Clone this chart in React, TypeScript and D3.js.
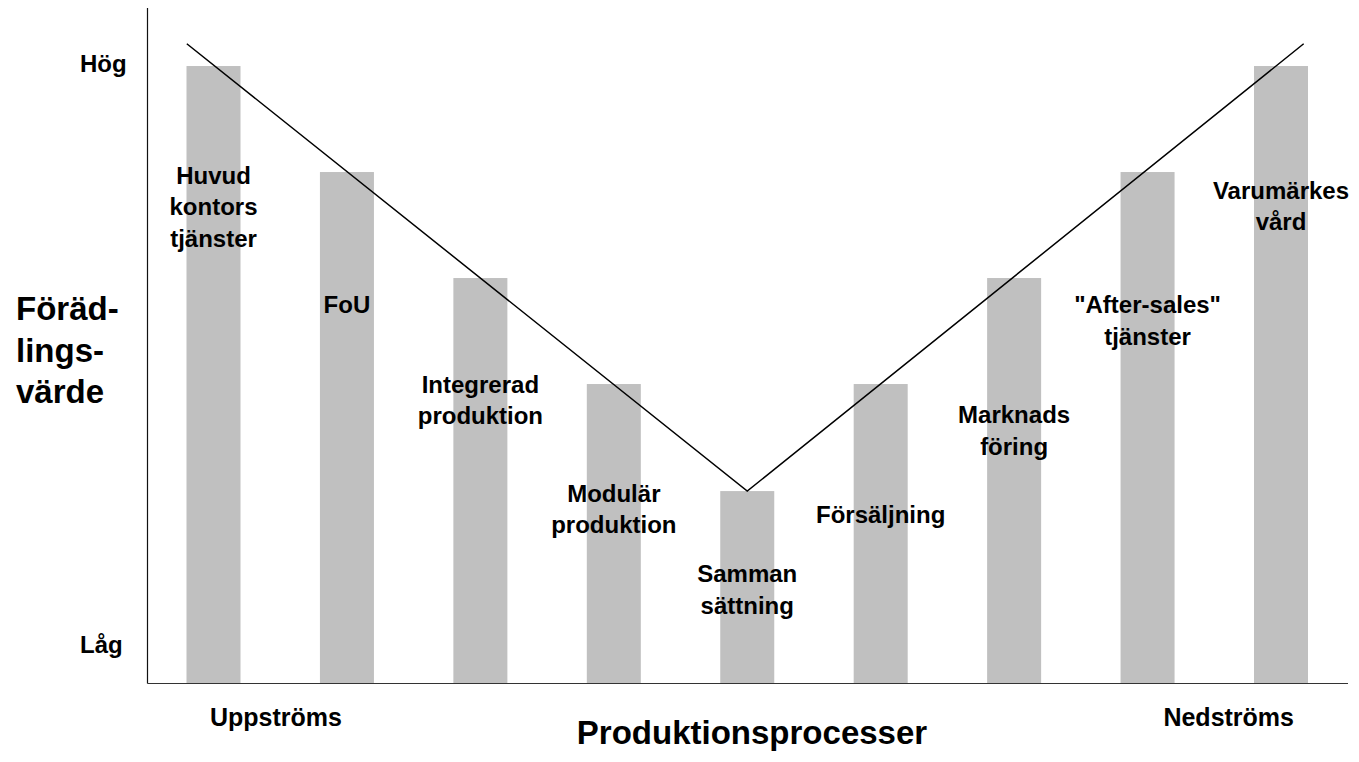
import React, {useEffect, useRef} from 'react';
import * as d3 from 'd3';

// processes along the value chain, left to right
const categories = [
    'huvud', 'fou', 'integrerad', 'modular', 'samman',
    'forsaljning', 'marknad', 'aftersales', 'varumarke',
];
const barValues = [5.83, 4.83, 3.83, 2.83, 1.82, 2.83, 3.83, 4.83, 5.83];
const barLabels = [
    ['Huvud', 'kontors', 'tjänster'],
    ['FoU'],
    ['Integrerad', 'produktion'],
    ['Modulär', 'produktion'],
    ['Samman', 'sättning'],
    ['Försäljning'],
    ['Marknads', 'föring'],
    ['"After-sales"', 'tjänster'],
    ['Varumärkes', 'vård'],
];
// where the first line of each label sits, in value units
const labelLevels = [4.72, 3.5, 2.75, 1.72, 0.96, 1.52, 2.46, 3.5, 4.58];

// the V ("smile curve") drawn over the bars: position in bar index, value
const curveIndex = [-0.2, 4, 8.17];
const curveValues = [6.04, 1.82, 6.04];

const yTicks = [{label: 'Hög', value: 5.77}, {label: 'Låg', value: 0.29}];
const yTitle = ['Föräd-', 'lings-', 'värde'];
const xEnds = ['Uppströms', 'Nedströms'];
const xTitle = 'Produktionsprocesser';

const W = 1359;
const H = 762;
const FONT = '"Liberation Sans", Arial, Helvetica, sans-serif';

export default function App() {
    const ref = useRef<SVGSVGElement>(null);

    useEffect(() => {
        const svg = d3.select(ref.current);
        svg.selectAll('*').remove();

        const axisX = 147.5;
        const axisY = 683.5;

        const x = d3.scalePoint<string>().domain(categories).range([213.5, 1281]);
        const xi = d3.scaleLinear().domain([0, categories.length - 1]).range([213.5, 1281]);
        const y = d3.scaleLinear().domain([0, 6]).range([684, 48]);
        const barW = 54;

        // bars
        svg.append('g')
            .selectAll('rect')
            .data(categories)
            .join('rect')
            .attr('x', d => x(d)! - barW / 2)
            .attr('y', (d, i) => y(barValues[i]))
            .attr('width', barW)
            .attr('height', (d, i) => y(0) - y(barValues[i]))
            .attr('fill', '#c0c0c0');

        // axes lines
        svg.append('line')
            .attr('x1', axisX).attr('x2', axisX)
            .attr('y1', 8).attr('y2', axisY)
            .attr('stroke', '#111').attr('stroke-width', 1.2);
        svg.append('line')
            .attr('x1', axisX).attr('x2', 1348)
            .attr('y1', axisY).attr('y2', axisY)
            .attr('stroke', '#333').attr('stroke-width', 1.2);

        // the V line
        const line = d3.line<number>()
            .x((d, i) => xi(curveIndex[i]))
            .y(d => y(d));
        svg.append('path')
            .datum(curveValues)
            .attr('d', line)
            .attr('fill', 'none')
            .attr('stroke', '#000')
            .attr('stroke-width', 1.5);

        const text = svg.append('g')
            .style('font-family', FONT)
            .style('font-weight', 'bold')
            .attr('fill', '#000');

        // bar labels
        const lineH = 31.5;
        categories.forEach((c, i) => {
            const t = text.append('text')
                .attr('text-anchor', 'middle')
                .style('font-size', '24px')
                .attr('x', x(c)!)
                .attr('y', y(labelLevels[i]));
            barLabels[i].forEach((s, j) => {
                t.append('tspan')
                    .attr('x', x(c)!)
                    .attr('dy', j === 0 ? 0 : lineH)
                    .text(s);
            });
        });

        // y axis: Hög / Låg
        text.selectAll('text.ytick')
            .data(yTicks)
            .join('text')
            .attr('class', 'ytick')
            .attr('x', 80)
            .attr('y', d => y(d.value))
            .style('font-size', '24px')
            .text(d => d.label);

        // y title
        const yt = text.append('text')
            .attr('x', 16)
            .attr('y', 320)
            .style('font-size', '33px');
        yTitle.forEach((s, j) => {
            yt.append('tspan').attr('x', 16).attr('dy', j === 0 ? 0 : 41.5).text(s);
        });

        // x ends
        text.append('text')
            .attr('x', 210).attr('y', 726)
            .style('font-size', '25px')
            .text(xEnds[0]);
        text.append('text')
            .attr('x', 1294).attr('y', 726)
            .attr('text-anchor', 'end')
            .style('font-size', '25px')
            .text(xEnds[1]);

        // x title
        text.append('text')
            .attr('x', 752).attr('y', 744)
            .attr('text-anchor', 'middle')
            .style('font-size', '33px')
            .text(xTitle);
    }, []);

    return (
        <svg ref={ref} width={W} height={H}
             style={{position: 'absolute', left: 0, top: 0, background: '#fff'}}/>
    );
}
